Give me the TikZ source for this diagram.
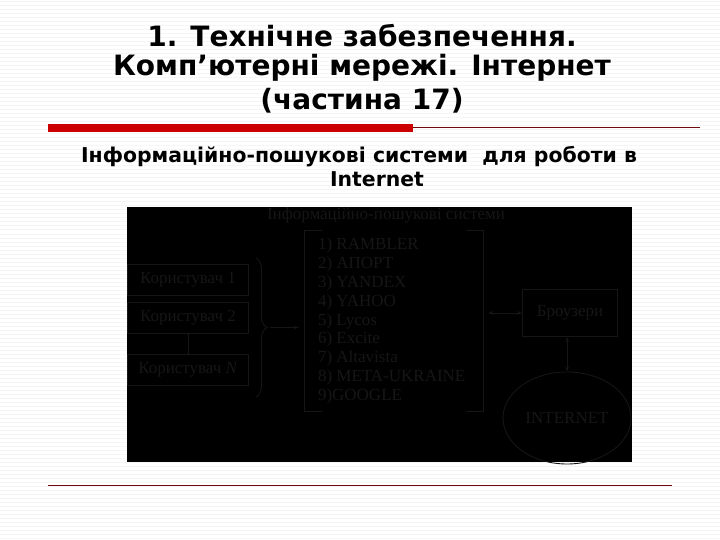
\documentclass[tikz,border=0pt]{standalone}
\usepackage{fontspec}
\setmainfont{Liberation Serif}
\newfontfamily\headfont{DejaVu Sans}
\usepackage{tikz}
\usetikzlibrary{
  arrows.meta,              % 箭头
  positioning,              % 相对定位
  decorations.pathreplacing,% 大括号
  shapes.geometric          % 椭圆
}
\definecolor{barred}{HTML}{CC0000}
\definecolor{rulered}{HTML}{6E0A0A}
\definecolor{darkfg}{HTML}{161616}
\tikzset{
  stripe/.style={line width=1pt, color=gray!7},
  headline/.style={font=\headfont\bfseries\fontsize{28}{28}\selectfont, inner sep=0pt},
  subline/.style={font=\headfont\bfseries\fontsize{20.4}{20.4}\selectfont, inner sep=0pt},
  darkline/.style={draw=darkfg, line width=0.9pt},
  userbox/.style={
    darkline,
    minimum width=121pt,
    minimum height=31pt,
    text=darkfg,
    font=\fontsize{17}{17}\selectfont
  },
  listtext/.style={
    text=darkfg,
    align=left,
    inner sep=0pt,
    font=\fontsize{17}{18.9}\selectfont
  },
  twoway/.style={darkline, {Stealth[length=5pt]}-{Stealth[length=5pt]}}
}

\begin{document}
\begin{tikzpicture}[x=1pt, y=-1pt]
    \useasboundingbox (0,0) rectangle (720,540);
    % --- 背景条纹 ---
    \fill[white] (0,0) rectangle (720,540);
    \foreach \y in {2,6,...,538} {
      \draw[stripe] (0,\y) -- (720,\y);
    }

    % --- 标题 ---
    \node[headline] (title1) at (362,36) {1. Технічне забезпечення.};
    \node[headline] (title2) at (362,68) {Комп’ютерні мережі. Інтернет};
    \node[headline] (title3) at (362,101) {(частина 17)};
    \fill[barred] (48,124) rectangle (413,132);
    \draw[rulered, line width=0.8pt] (413,127.5) -- (700,127.5);

    \node[subline] (sub1) at (359,157) {Інформаційно-пошукові системи\ \ для роботи в};
    \node[subline] (sub2) at (377,179) {Internet};

    % --- 黑色插图 ---
    \fill[black] (127,207) rectangle (632,462);
    \node[text=darkfg, font=\fontsize{17}{17}\selectfont] (ipscap) at (386,215) {Інформаційно-пошукові системи};

    % 用户 (3个)
    \node[userbox] (user1) at (188,280) {Користувач 1};
    \node[userbox] (user2) at (188,318) {Користувач 2};
    \node[userbox] (userN) at (188,370) {Користувач \textit{N}};
    \draw[darkline] (user2) -- (userN);

    % 大括号 + 箭头
    \draw[darkline, decorate, decoration={brace, amplitude=11pt}] (256,258) -- (256,397);
    \coordinate (bracetip) at (270,327.5);

    % 搜索系统列表
    \node[minimum width=178pt, minimum height=180pt, inner sep=0pt] (engines) at (394,321) {};
    \draw[darkline] ([xshift=17pt]engines.north west) -- (engines.north west) -- (engines.south west) -- ++(17,0);
    \draw[darkline] ([xshift=-17pt]engines.north east) -- (engines.north east) -- (engines.south east) -- ++(-17,0);
    \node[listtext, anchor=west] (list) at ([xshift=13pt]engines.west) {1) RAMBLER\\2) АПОРТ\\3) YANDEX\\4) YAHOO\\5) Lycos\\6) Excite\\7) Altavista\\8) META-UKRAINE\\9)GOOGLE};
    \draw[darkline, -{Stealth[length=5pt]}] (bracetip) -- ([xshift=-6pt]engines.west |- bracetip);

    % 浏览器与互联网
    \node[userbox, minimum width=95pt, minimum height=47pt] (browsers) at (570,313) {Броузери};
    \node[ellipse, darkline, minimum width=128pt, minimum height=92pt, text=darkfg, font=\fontsize{17}{17}\selectfont] (internet) at (567,418) {INTERNET};
    \draw[twoway] ([xshift=5pt]engines.east |- browsers.west) -- (browsers.west);
    \draw[twoway] (browsers.south -| internet.north) -- (internet.north);

    % --- 底部分隔线 ---
    \draw[rulered, line width=1pt] (48,485) -- (672,485);

  \end{tikzpicture}
\end{document}
